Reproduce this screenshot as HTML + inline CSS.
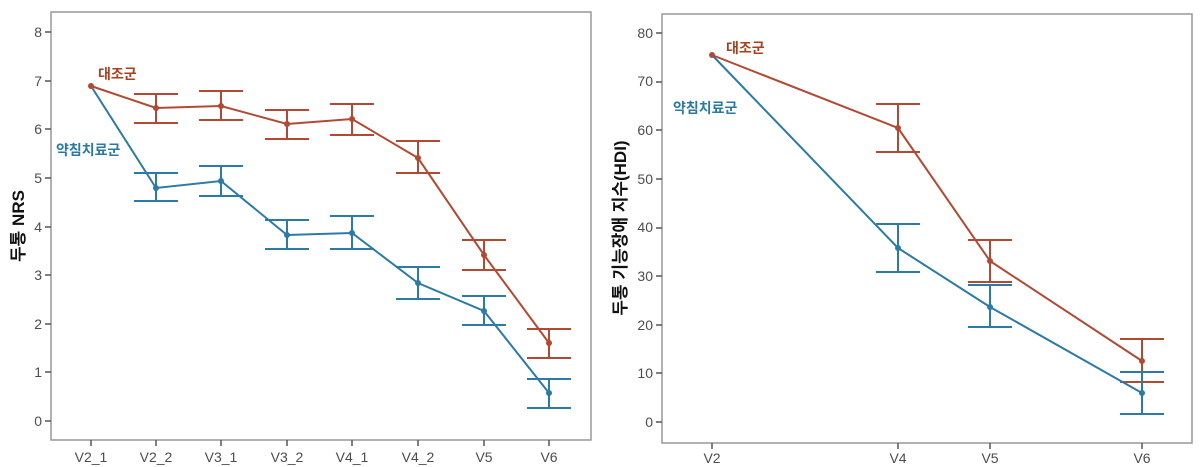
<!DOCTYPE html>
<html><head><meta charset="utf-8"><style>
body{margin:0;background:#fff;width:1200px;height:467px;overflow:hidden}
svg{display:block}
text{font-family:"Liberation Sans","Noto Sans CJK KR",sans-serif}
.t{font-size:14px;fill:#4d4d4d}
</style></head><body>
<svg width="1200" height="467" xmlns="http://www.w3.org/2000/svg">
<!-- LEFT -->
<rect x="51" y="12" width="540" height="428" fill="none" stroke="#999" stroke-width="1.5"/>
<g class="t" text-anchor="end">
<text x="42" y="37">8</text><text x="42" y="86">7</text><text x="42" y="134">6</text><text x="42" y="183">5</text><text x="42" y="232">4</text><text x="42" y="280">3</text><text x="42" y="329">2</text><text x="42" y="377">1</text><text x="42" y="426">0</text>
</g>
<g stroke="#555" stroke-width="1.5">
<line x1="45" x2="51" y1="32" y2="32"/><line x1="45" x2="51" y1="81" y2="81"/><line x1="45" x2="51" y1="129" y2="129"/><line x1="45" x2="51" y1="178" y2="178"/><line x1="45" x2="51" y1="227" y2="227"/><line x1="45" x2="51" y1="275" y2="275"/><line x1="45" x2="51" y1="324" y2="324"/><line x1="45" x2="51" y1="372" y2="372"/><line x1="45" x2="51" y1="421" y2="421"/>
<line x1="91" x2="91" y1="440" y2="446"/><line x1="156" x2="156" y1="440" y2="446"/><line x1="221" x2="221" y1="440" y2="446"/><line x1="287" x2="287" y1="440" y2="446"/><line x1="352" x2="352" y1="440" y2="446"/><line x1="418" x2="418" y1="440" y2="446"/><line x1="484" x2="484" y1="440" y2="446"/><line x1="549" x2="549" y1="440" y2="446"/>
</g>
<g class="t" text-anchor="middle">
<text x="91" y="462">V2_1</text><text x="156" y="462">V2_2</text><text x="221" y="462">V3_1</text><text x="287" y="462">V3_2</text><text x="352" y="462">V4_1</text><text x="418" y="462">V4_2</text><text x="484" y="462">V5</text><text x="549" y="462">V6</text>
</g>
<text transform="translate(24,226) rotate(-90)" text-anchor="middle" font-size="17" font-weight="bold" fill="#111">두통 NRS</text>
<text x="98" y="79" font-size="14" font-weight="bold" fill="#a8401f">대조군</text>
<text x="56" y="155" font-size="14" font-weight="bold" fill="#2a7aa3">약침치료군</text>
<g fill="none" stroke="#b24a33" stroke-width="2">
<polyline points="91,86 156,108 221,106 287,124 352,119 418,158 484,255 549,343"/>
<path d="M156,123V94M134,123H178M134,94H178 M221,120V91M199,120H243M199,91H243 M287,139V110M265,139H309M265,110H309 M352,135V104M330,135H374M330,104H374 M418,173V141M396,173H440M396,141H440 M484,270V240M462,270H506M462,240H506 M549,358V329M527,358H571M527,329H571"/>
</g>
<g fill="none" stroke="#2c7aa6" stroke-width="2">
<polyline points="91,86 156,188 221,181 287,235 352,233 418,283 484,311 549,393"/>
<path d="M156,201V173M134,201H178M134,173H178 M221,196V166M199,196H243M199,166H243 M287,249V220M265,249H309M265,220H309 M352,249V216M330,249H374M330,216H374 M418,299V267M396,299H440M396,267H440 M484,325V296M462,325H506M462,296H506 M549,408V379M527,408H571M527,379H571"/>
</g>
<g fill="#b24a33"><circle cx="91" cy="86" r="3"/><circle cx="156" cy="108" r="3"/><circle cx="221" cy="106" r="3"/><circle cx="287" cy="124" r="3"/><circle cx="352" cy="119" r="3"/><circle cx="418" cy="158" r="3"/><circle cx="484" cy="255" r="3"/><circle cx="549" cy="343" r="3"/></g>
<g fill="#2c7aa6"><circle cx="156" cy="188" r="3"/><circle cx="221" cy="181" r="3"/><circle cx="287" cy="235" r="3"/><circle cx="352" cy="233" r="3"/><circle cx="418" cy="283" r="3"/><circle cx="484" cy="311" r="3"/><circle cx="549" cy="393" r="3"/></g>

<!-- RIGHT -->
<rect x="662" y="14" width="530" height="429" fill="none" stroke="#999" stroke-width="1.5"/>
<g class="t" text-anchor="end">
<text x="653" y="38">80</text><text x="653" y="86">70</text><text x="653" y="135">60</text><text x="653" y="184">50</text><text x="653" y="232">40</text><text x="653" y="281">30</text><text x="653" y="330">20</text><text x="653" y="378">10</text><text x="653" y="427">0</text>
</g>
<g stroke="#555" stroke-width="1.5">
<line x1="656" x2="662" y1="33" y2="33"/><line x1="656" x2="662" y1="82" y2="82"/><line x1="656" x2="662" y1="130" y2="130"/><line x1="656" x2="662" y1="179" y2="179"/><line x1="656" x2="662" y1="228" y2="228"/><line x1="656" x2="662" y1="276" y2="276"/><line x1="656" x2="662" y1="325" y2="325"/><line x1="656" x2="662" y1="373" y2="373"/><line x1="656" x2="662" y1="422" y2="422"/>
<line x1="712" x2="712" y1="443" y2="449"/><line x1="898" x2="898" y1="443" y2="449"/><line x1="990" x2="990" y1="443" y2="449"/><line x1="1142" x2="1142" y1="443" y2="449"/>
</g>
<g class="t" text-anchor="middle">
<text x="712" y="463">V2</text><text x="898" y="463">V4</text><text x="990" y="463">V5</text><text x="1142" y="463">V6</text>
</g>
<text transform="translate(626,228) rotate(-90)" text-anchor="middle" font-size="17" font-weight="bold" fill="#111">두통 기능장애 지수(HDI)</text>
<text x="726" y="53" font-size="14" font-weight="bold" fill="#a8401f">대조군</text>
<text x="673" y="113" font-size="14" font-weight="bold" fill="#2a7aa3">약침치료군</text>
<g fill="none" stroke="#b24a33" stroke-width="2">
<polyline points="712,55 898,128 990,261 1142,361"/>
<path d="M898,152V104M876,152H920M876,104H920 M990,282V240M968,282H1012M968,240H1012 M1142,382V339M1120,382H1164M1120,339H1164"/>
</g>
<g fill="none" stroke="#2c7aa6" stroke-width="2">
<polyline points="712,55 898,248 990,307 1142,393"/>
<path d="M898,272V224M876,272H920M876,224H920 M990,327V285M968,327H1012M968,285H1012 M1142,414V372M1120,414H1164M1120,372H1164"/>
</g>
<g fill="#b24a33"><circle cx="712" cy="55" r="3"/><circle cx="898" cy="128" r="3"/><circle cx="990" cy="261" r="3"/><circle cx="1142" cy="361" r="3"/></g>
<g fill="#2c7aa6"><circle cx="898" cy="248" r="3"/><circle cx="990" cy="307" r="3"/><circle cx="1142" cy="393" r="3"/></g>
</svg>
</body></html>
